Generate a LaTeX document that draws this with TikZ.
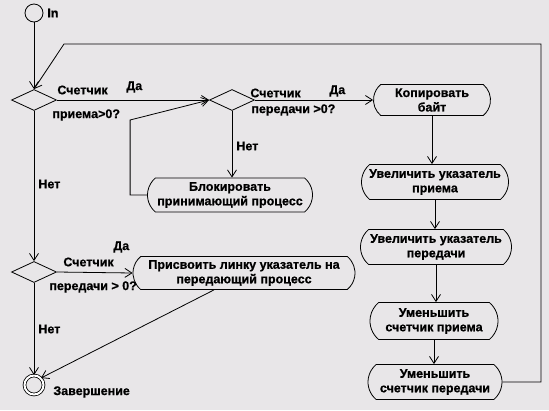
\documentclass[tikz,border=0pt]{standalone}
\usepackage{fontspec}
\setmainfont{Liberation Sans}[FakeBold=0.7]
\usetikzlibrary{shapes.geometric,shapes.misc,arrows.meta}
\definecolor{paper}{RGB}{232,230,232}

\begin{document}
\begin{tikzpicture}[x=1pt,y=-1pt,
    line width=0.8pt,
    >={Straight Barb[length=7pt,width=9pt]},
    every node/.style={font=\fontsize{12.5}{14.5}\selectfont\bfseries},
    act/.style={draw, rounded rectangle, rounded rectangle arc length=100,
        align=center, inner sep=0pt},
    choice/.style={draw, diamond, minimum width=45pt, minimum height=21pt, inner sep=0pt},
    txt/.style={inner sep=0pt, anchor=west}]

    % Background and page size
    \fill[paper] (0,0) rectangle (549,410);
    \useasboundingbox (0,0) rectangle (549,410);

    % Start and end
    \node[draw, circle, minimum size=18pt, inner sep=0pt] (start) at (34,13) {};
    \node[draw, circle, double, double distance=2pt, minimum size=19pt, inner sep=0pt] (stop) at (34,385) {};
    \node[txt] (lblIn) at (47,13) {In};
    \node[txt] (lblStop) at (53,392) {Завершение};

    % Decisions
    \node[choice] (rcv) at (34,100) {};
    \node[choice] (snd) at (232,100) {};
    \node[choice] (snd2) at (34,272) {};

    % Activities
    \node[act, minimum width=117pt, minimum height=31pt] (copy) at (432,100) {Копировать\\байт};
    \node[act, minimum width=147pt, minimum height=35pt] (incRcv) at (435,182) {Увеличить указатель\\приема};
    \node[act, minimum width=151pt, minimum height=35pt] (incSnd) at (436,247) {Увеличить указатель\\передачи};
    \node[act, minimum width=128pt, minimum height=37pt] (decRcv) at (434,321) {Уменьшить\\счетчик приема};
    \node[act, minimum width=134pt, minimum height=35pt] (decSnd) at (435,382) {Уменьшить\\счетчик передачи};
    \node[act, minimum width=165pt, minimum height=34pt] (block) at (230,195) {Блокировать\\принимающий процесс};
    \node[act, minimum width=222pt, minimum height=33pt] (assign) at (244,273) {Присвоить линку указатель на\\передающий процесс};

    % Guard labels
    \node[txt] (c1a) at (57,90) {Счетчик};
    \node[txt] (c1b) at (126,87) {Да};
    \node[txt] (c1c) at (52,115) {приема>0?};
    \node[txt] (c2a) at (250,93) {Счетчик};
    \node[txt] (c2b) at (329,91) {Да};
    \node[txt] (c2c) at (251,110) {передачи >0?};
    \node[txt] (c2d) at (236,146) {Нет};
    \node[txt] (c3a) at (63,262) {Счетчик};
    \node[txt] (c3b) at (113,247) {Да};
    \node[txt] (c3c) at (49,287) {передачи > 0?};
    \node[txt] (c1d) at (38,184) {Нет};
    \node[txt] (c3d) at (38,329) {Нет};

    % Connectors
    \draw[->] (start) -- (rcv.north);
    \draw[->] (rcv.east) -- (snd.west);
    \draw[->] (snd.east) -- (copy.west);
    \draw[->] (snd.south) -- (snd.south |- block.north);
    \draw[->] (block.west) -- ++(-17,0) -- ++(0,-75) -- (snd.west);
    \draw[->] (rcv.south) -- (snd2.north);
    \draw[->] (snd2.east) -- (assign.west);
    \draw[->] (snd2.south) -- (stop.north);
    \draw[->] ([xshift=-30pt]assign.south) -- (stop.north east);

    % Right column
    \draw[->] (copy.south) -- (copy.south |- incRcv.north);
    \draw[->] (incRcv.south) -- (incRcv.south |- incSnd.north);
    \draw[->] (incSnd.south) -- (incSnd.south |- decRcv.north);
    \draw[->] (decRcv.south) -- (decRcv.south |- decSnd.north);

    % Loop back
    \draw[->] (decSnd.east) -- (541,382) -- (541,44) -- (64,44) -- (rcv.north);

\end{tikzpicture}
\end{document}
